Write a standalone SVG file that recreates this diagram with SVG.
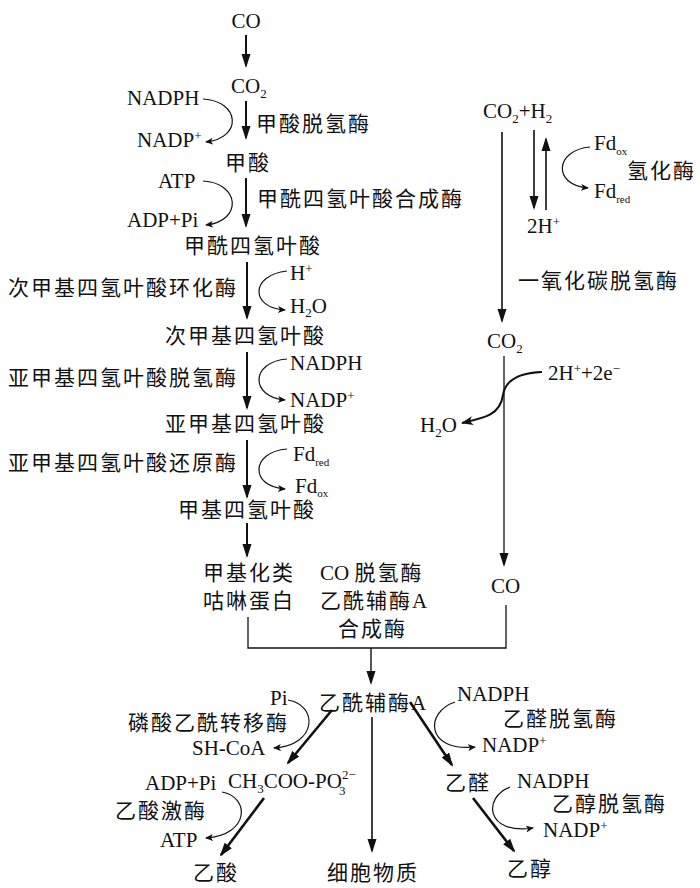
<svg xmlns="http://www.w3.org/2000/svg" width="700" height="888" viewBox="0 0 700 888">
<style>
.l{font-family:"Liberation Serif","Times New Roman",serif;font-size:21px;fill:#111}
.c{font-family:"Noto Sans CJK SC","Liberation Serif",sans-serif;font-size:21px;letter-spacing:2px;fill:#111}
.c .l{letter-spacing:0}
.s{font-size:13px}
.xs{font-size:11px}
.a{stroke:#111;stroke-width:2;fill:none;marker-end:url(#big)}
.th{stroke:#111;stroke-width:1.3;fill:none}
.cv{stroke:#111;stroke-width:1.2;fill:none;marker-end:url(#sm)}
.dg{stroke:#111;stroke-width:2.6;fill:none;marker-end:url(#big)}
</style>
<defs>
<marker id="big" markerUnits="userSpaceOnUse" viewBox="0 0 14 10" markerWidth="14" markerHeight="10" refX="12" refY="5" orient="auto"><path d="M0,0.5 L14,5 L0,9.5 z" fill="#111"/></marker>
<marker id="mid" markerUnits="userSpaceOnUse" viewBox="0 0 12 9" markerWidth="12" markerHeight="9" refX="11" refY="4.5" orient="auto"><path d="M0,0 L12,4.5 L0,9 L3,4.5 z" fill="#111"/></marker>
<marker id="sm" markerUnits="userSpaceOnUse" viewBox="0 0 8 7" markerWidth="8" markerHeight="7" refX="7" refY="3.5" orient="auto"><path d="M0,0 L8,3.5 L0,7 L2,3.5 z" fill="#111"/></marker>
</defs>

<g id="connectors">
<path class="a" d="M246,35 V66"/>
<path class="a" d="M246,101 V138"/>
<path class="a" d="M246,178 V226"/>
<path class="a" d="M247,262 V318"/>
<path class="a" d="M247,352 V408"/>
<path class="a" d="M247,440 V497"/>
<path class="a" d="M247,523 V556"/>
<path class="a" style="stroke-width:1.6" d="M502,132 V321"/>
<path class="a" style="stroke-width:1.6" d="M534,130 V208"/>
<path class="a" style="stroke-width:1.6" d="M546,210 V139"/>
<path class="a" style="stroke-width:1.3" d="M504,356 V565"/>
<path class="th" d="M248,617 V648 H506 V605"/>
<path class="a" style="stroke-width:1.4" d="M371,648 V683"/>
<path class="a" style="stroke-width:1.6" d="M372,717 V851"/>
<path class="dg" d="M332,710 L288,763"/>
<path class="dg" d="M264,798 L221,855"/>
<path class="dg" d="M410,702 L452,765"/>
<path class="dg" d="M473,798 L514,851"/>
<path class="cv" d="M203,99 C240,101 243,138 206,142"/>
<path class="cv" d="M203,181 C240,183 243,221 206,225"/>
<path class="cv" d="M287,271 C250,275 250,308 285,310"/>
<path class="cv" d="M287,359 C250,362 250,397 285,400"/>
<path class="cv" d="M287,449 C250,452 250,487 285,489"/>
<path class="cv" d="M590,147 C555,150 552,185 588,188"/>
<path d="M542,372 C515,373 505,382 503,395 C500,415 485,418 462,423" stroke="#111" stroke-width="2" fill="none" marker-end="url(#mid)"/>
<path class="cv" d="M288,700 C318,705 318,745 274,748"/>
<path class="cv" d="M222,792 C250,797 250,835 206,838"/>
<path class="cv" d="M455,702 C425,712 425,752 475,747"/>
<path class="cv" d="M510,787 C483,797 485,835 533,828"/>
</g>

<g id="n-co"><text class="l" x="246" y="28" text-anchor="middle">CO</text></g>
<g id="n-co2"><text class="l" x="231" y="93">CO<tspan class="s" dy="5">2</tspan></text></g>
<g id="n-nadph1"><text class="l" x="127" y="105">NADPH</text></g>
<g id="n-nadp1"><text class="l" x="137" y="147">NADP<tspan class="s" dy="-7">+</tspan></text></g>
<g id="e-fdh"><text class="c" x="256" y="131">甲酸脱氢酶</text></g>
<g id="n-formate"><text class="c" x="225" y="170">甲酸</text></g>
<g id="n-atp1"><text class="l" x="158" y="188">ATP</text></g>
<g id="n-adp1"><text class="l" x="127" y="227">ADP+Pi</text></g>
<g id="e-fths"><text class="c" x="257" y="206">甲酰四氢叶酸合成酶</text></g>
<g id="n-fthf"><text class="c" x="184" y="253">甲酰四氢叶酸</text></g>
<g id="e-cyc"><text class="c" x="8" y="295">次甲基四氢叶酸环化酶</text></g>
<g id="n-hplus"><text class="l" x="290" y="280">H<tspan class="s" dy="-7">+</tspan></text></g>
<g id="n-h2o1"><text class="l" x="290" y="313">H<tspan class="s" dy="4">2</tspan><tspan dy="-4">O</tspan></text></g>
<g id="n-methenyl"><text class="c" x="165" y="343">次甲基四氢叶酸</text></g>
<g id="e-mtd"><text class="c" x="8" y="385">亚甲基四氢叶酸脱氢酶</text></g>
<g id="n-nadph2"><text class="l" x="290" y="370">NADPH</text></g>
<g id="n-nadp2"><text class="l" x="290" y="407">NADP<tspan class="s" dy="-7">+</tspan></text></g>
<g id="n-methylene"><text class="c" x="165" y="431">亚甲基四氢叶酸</text></g>
<g id="e-mtr"><text class="c" x="8" y="470">亚甲基四氢叶酸还原酶</text></g>
<g id="n-fdred1"><text class="l" x="293" y="461">Fd<tspan class="xs" dy="5">red</tspan></text></g>
<g id="n-fdox1"><text class="l" x="295" y="493">Fd<tspan class="xs" dy="4">ox</tspan></text></g>
<g id="n-methyl"><text class="c" x="178" y="517">甲基四氢叶酸</text></g>
<g id="n-corrin"><text class="c" x="203" y="580">甲基化类</text><text class="c" x="203" y="608">咕啉蛋白</text></g>
<g id="e-codh-acs"><text class="c" x="320" y="580"><tspan class="l">CO </tspan>脱氢酶</text><text class="c" x="320" y="608">乙酰辅酶<tspan class="l">A</tspan></text><text class="c" x="338" y="636">合成酶</text></g>

<g id="n-co2h2"><text class="l" x="483" y="118">CO<tspan class="s" dy="5">2</tspan><tspan dy="-5">+H</tspan><tspan class="s" dy="5">2</tspan></text></g>
<g id="n-fdox2"><text class="l" x="594" y="150">Fd<tspan class="xs" dy="5">ox</tspan></text></g>
<g id="e-hyd"><text class="c" x="627" y="178">氢化酶</text></g>
<g id="n-fdred2"><text class="l" x="594" y="198">Fd<tspan class="xs" dy="5">red</tspan></text></g>
<g id="n-2h"><text class="l" x="527" y="233">2H<tspan class="s" dy="-7">+</tspan></text></g>
<g id="e-codh"><text class="c" x="518" y="288">一氧化碳脱氢酶</text></g>
<g id="n-co2b"><text class="l" x="487" y="348">CO<tspan class="s" dy="5">2</tspan></text></g>
<g id="n-2h2e"><text class="l" x="548" y="380">2H<tspan class="s" dy="-7">+</tspan><tspan dy="7">+2e</tspan><tspan class="s" dy="-7">−</tspan></text></g>
<g id="n-h2o2"><text class="l" x="420" y="432">H<tspan class="s" dy="5">2</tspan><tspan dy="-5">O</tspan></text></g>
<g id="n-co-right"><text class="l" x="491" y="593">CO</text></g>

<g id="n-acoa"><text class="c" x="319" y="710">乙酰辅酶<tspan class="l">A</tspan></text></g>
<g id="n-pi"><text class="l" x="270" y="705">Pi</text></g>
<g id="e-pta"><text class="c" x="128" y="730">磷酸乙酰转移酶</text></g>
<g id="n-shcoa"><text class="l" x="192" y="755">SH-CoA</text></g>
<g id="n-acp"><text class="l" x="228" y="788">CH<tspan class="s" dy="5">3</tspan><tspan dy="-5">COO-PO</tspan><tspan class="s" dy="-9">2−</tspan><tspan class="s" x="339" dy="16">3</tspan></text></g>
<g id="n-adp2"><text class="l" x="145" y="790">ADP+Pi</text></g>
<g id="e-ack"><text class="c" x="115" y="818">乙酸激酶</text></g>
<g id="n-atp2"><text class="l" x="160" y="847">ATP</text></g>
<g id="n-acetate"><text class="c" x="193" y="880">乙酸</text></g>
<g id="n-cell"><text class="c" x="327" y="880">细胞物质</text></g>
<g id="n-nadph3"><text class="l" x="457" y="701">NADPH</text></g>
<g id="e-ald"><text class="c" x="503" y="726">乙醛脱氢酶</text></g>
<g id="n-nadp3"><text class="l" x="482" y="752">NADP<tspan class="s" dy="-7">+</tspan></text></g>
<g id="n-acald"><text class="c" x="445" y="790">乙醛</text></g>
<g id="n-nadph4"><text class="l" x="517" y="788">NADPH</text></g>
<g id="e-adh"><text class="c" x="552" y="811">乙醇脱氢酶</text></g>
<g id="n-nadp4"><text class="l" x="543" y="837">NADP<tspan class="s" dy="-7">+</tspan></text></g>
<g id="n-ethanol"><text class="c" x="507" y="876">乙醇</text></g>
</svg>
